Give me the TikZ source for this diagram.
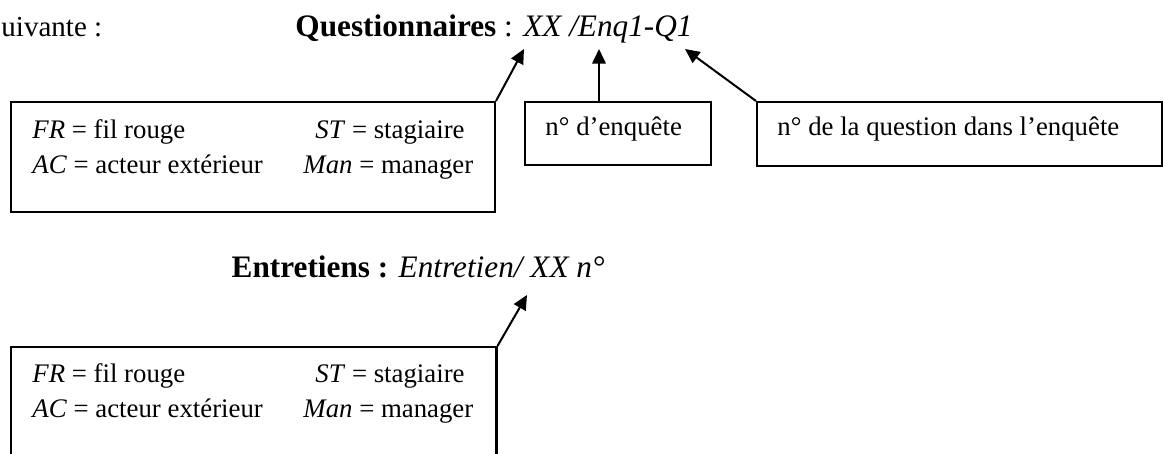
\documentclass[tikz,border=0pt]{standalone}
\usepackage{fontspec}
\setmainfont{Liberation Serif}
\usetikzlibrary{fit,arrows.meta}
\begin{document}
\begin{tikzpicture}[x=0.4478pt,y=-0.4478pt,
  box/.style={draw, line width=0.9pt, inner sep=0pt},
  txt/.style={inner sep=0pt, anchor=base west, font=\fontsize{12}{14}\selectfont},
  ttl/.style={inner sep=0pt, font=\fontsize{14}{16}\selectfont},
  ptr/.style={line width=0.9pt, -{Triangle[length=6.5pt,width=6pt]}}]
\useasboundingbox (0,0) rectangle (1163,454);
\clip (0,0) rectangle (1163,454);

% header line
\node[ttl, anchor=base west, font=\fontsize{13}{15}\selectfont] (suiv) at (1,37) {uivante :};
\node[ttl, anchor=base west] (q) at (295,37) {\textbf{Questionnaires} : \textit{XX /Enq1-Q1}};
\coordinate (t1) at (524,49);
\coordinate (t2) at (599,49);
\coordinate (t3) at (685,49);

% box 1
\node[box, fit={(11,102) (495,212)}] (b1) {};
\node[txt] (fr1) at (32,139) {\textit{FR} = fil rouge};
\node[txt] (st1) at (315,139) {\textit{ST} = stagiaire};
\node[txt] (ac1) at (32,174) {\textit{AC} = acteur extérieur};
\node[txt] (man1) at (303,174) {\textit{Man} = manager};

% box 2
\node[box, fit={(525,102) (711,165)}] (b2) {};
\node[txt] (enq) at (545,136) {n° d’enquête};

% box 3
\node[box, fit={(757,102) (1162,166)}] (b3) {};
\node[txt] (qst) at (777,136) {n° de la question dans l’enquête};

\draw[ptr] (b1.north east) -- (t1);
\draw[ptr] (b2.north -| t2) -- (t2);
\draw[ptr] (b3.north west) -- (t3);

% Entretiens
\node[ttl, anchor=base east] (ent) at (605,278) {\textbf{Entretiens :} \textit{Entretien/ XX n°}};
\coordinate (t4) at (527,295);

% box 4
\node[box, fit={(11,347) (496.5,475)}] (b4) {};
\node[txt] (fr2) at (32,383) {\textit{FR} = fil rouge};
\node[txt] (st2) at (315,383) {\textit{ST} = stagiaire};
\node[txt] (ac2) at (32,418) {\textit{AC} = acteur extérieur};
\node[txt] (man2) at (303,418) {\textit{Man} = manager};

\draw[ptr] (b4.north east) -- (t4);
\end{tikzpicture}
\end{document}
